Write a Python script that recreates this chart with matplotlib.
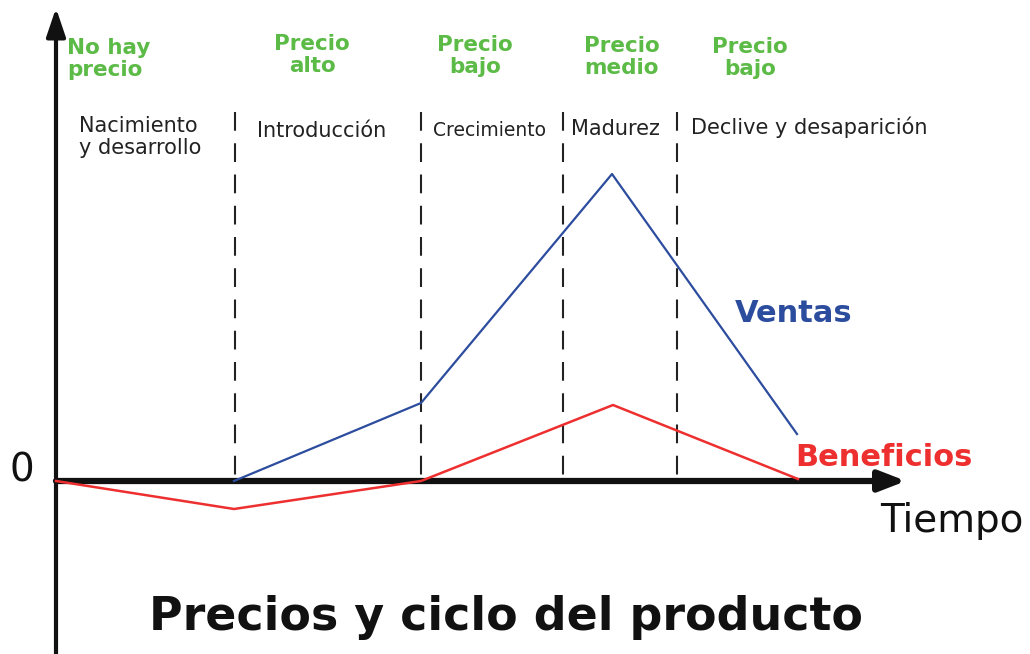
import matplotlib.pyplot as plt

plt.rcParams['font.family'] = ['DejaVu Sans']

# phase boundaries and curves (time units, value units)
phase_x = [179, 365, 507, 621]
ventas_t = [178, 365, 556, 741]
ventas_v = [0, 78, 307, 47]
benef_t = [0, 178, 365, 557, 742]
benef_v = [0, -28, 0, 76, 2]

price_labels = ["No hay\nprecio", "Precio\nalto", "Precio\nbajo", "Precio\nmedio", "Precio\nbajo"]
price_x = [11, 256, 419, 566, 694]
price_y = [422, 426, 425, 424, 423]
phase_labels = ["Nacimiento\ny desarrollo", "Introducción", "Crecimiento", "Madurez", "Declive y desaparición"]
phase_lx = [23, 201, 377, 515, 635]
phase_ly = [344, 350, 351, 352, 354]

green = '#5cbb46'
blue = '#2c4c9e'
red = '#ee2f2f'

fig = plt.figure(figsize=(10.30, 6.54), dpi=100)
ax = fig.add_axes([0, 0, 1, 1])
ax.set_xlim(-56, 974)
ax.set_ylim(-173, 481)
ax.axis('off')

# axes with arrows
ax.annotate('', xy=(0, 473), xytext=(0, -175),
            arrowprops=dict(arrowstyle='-|>,head_length=0.86,head_width=0.29', lw=3, color='#111111',
                            mutation_scale=20, shrinkA=0, shrinkB=0))
ax.annotate('', xy=(850, 0), xytext=(0, 0),
            arrowprops=dict(arrowstyle='-|>,head_length=0.8,head_width=0.31', lw=4.5, color='#111111',
                            mutation_scale=20, shrinkA=0, shrinkB=0))

# dashed phase separators, drawn top-down so the pattern starts with a dash
for px in phase_x:
    ax.plot([px, px], [369, 0], color='#222222', lw=1.5, linestyle=(0, (9, 6)), zorder=1)

ax.plot(ventas_t, ventas_v, color=blue, lw=1.6, zorder=3)
ax.plot(benef_t, benef_v, color=red, lw=1.8, zorder=3)

for lab, x, y in zip(price_labels, price_x, price_y):
    ha = 'left' if lab.startswith('No') else 'center'
    ax.text(x, y, lab, color=green, fontsize=15.5, fontweight='bold', ha=ha, va='center',
            linespacing=1.08)

for lab, x, y in zip(phase_labels, phase_lx, phase_ly):
    fs = 13.5 if lab == "Crecimiento" else 15
    ax.text(x, y, lab, color='#222222', fontsize=fs, ha='left', va='center', linespacing=1.08)

ax.text(-34, 11, '0', fontsize=28, ha='center', va='center', color='#111111')
ax.text(824, -40, 'Tiempo', fontsize=28, ha='left', va='center', color='#111111')
ax.text(739, 23, 'Beneficios', fontsize=22, fontweight='bold', color=red, ha='left', va='center')
ax.text(679, 167, 'Ventas', fontsize=22, fontweight='bold', color=blue, ha='left', va='center')
ax.text(450, -136, 'Precios y ciclo del producto', fontsize=33, fontweight='bold',
        color='#111111', ha='center', va='center')

fig.savefig('out.png', dpi=100)
